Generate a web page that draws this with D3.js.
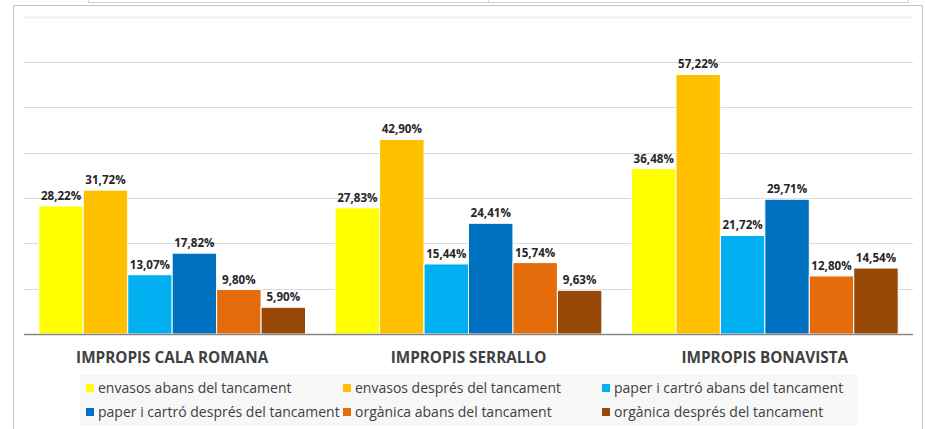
<!DOCTYPE html>
<html>
<head>
<meta charset="utf-8">
<script src="https://cdn.jsdelivr.net/npm/d3@7"></script>
<style>
  body { margin: 0; background: #fff; }
  svg { display: block; font-family: "Open Sans", Lato, sans-serif; }
</style>
</head>
<body>
<div id="chart"></div>
<script>
// chart data
var groups = ["IMPROPIS CALA ROMANA", "IMPROPIS SERRALLO", "IMPROPIS BONAVISTA"];
var series = ["envasos abans del tancament", "envasos després del tancament",
    "paper i cartró abans del tancament", "paper i cartró després del tancament",
    "orgànica abans del tancament", "orgànica després del tancament"];
var calaRomana = [28.22, 31.72, 13.07, 17.82, 9.80, 5.90];
var serrallo = [27.83, 42.90, 15.44, 24.41, 15.74, 9.63];
var bonavista = [36.48, 57.22, 21.72, 29.71, 12.80, 14.54];
var yTicks = [10, 20, 30, 40, 50, 60, 70];

var colors = ["#ffff00", "#ffc000", "#00b0f0", "#0070c0", "#e46c0a", "#984807"];
var values = [calaRomana, serrallo, bonavista];

var width = 925, height = 429;
var svg = d3.select("#chart").append("svg")
    .attr("width", width)
    .attr("height", height);

// bit of the table above the chart
svg.append("path")
    .attr("d", "M88.5,0 V2.5 H908.5 V0 M488.5,0 V2.5")
    .attr("fill", "none")
    .attr("stroke", "#d0d0d0");

// chart frame
svg.append("rect")
    .attr("x", 13.5).attr("y", 5.5)
    .attr("width", 909).attr("height", 440)
    .attr("fill", "#fff")
    .attr("stroke", "#c4c4c4");

var left = 24, right = 913, base = 334;

var x0 = d3.scaleBand()
    .domain(groups)
    .range([left, right])
    .paddingInner(0.1)
    .paddingOuter(0.05);

var x1 = d3.scaleBand()
    .domain(d3.range(series.length))
    .range([0, x0.bandwidth()]);

var y = d3.scaleLinear()
    .domain([0, 70])
    .range([base, base - 317.5]);

// gridlines
svg.selectAll("line.grid")
    .data(yTicks)
    .enter()
    .append("line")
    .attr("class", "grid")
    .attr("x1", left)
    .attr("x2", right)
    .attr("y1", function (d) { return Math.round(y(d)) + 0.5; })
    .attr("y2", function (d) { return Math.round(y(d)) + 0.5; })
    .attr("stroke", function (d) { return d == 70 ? "#f0f0f0" : "#d9d9d9"; })
    .attr("stroke-width", function (d) { return d == 70 ? 2 : 1; });

var g = svg.selectAll("g.group")
    .data(values)
    .enter()
    .append("g")
    .attr("class", "group")
    .attr("transform", function (d, i) { return "translate(" + x0(groups[i]) + ",0)"; });

g.selectAll("rect")
    .data(function (d) { return d; })
    .enter()
    .append("rect")
    .attr("x", function (d, i) { return x1(i); })
    .attr("y", function (d) { return y(d); })
    .attr("width", x1.bandwidth())
    .attr("height", function (d) { return base - y(d); })
    .attr("fill", function (d, i) { return colors[i]; })
    .attr("stroke", "#fff")
    .attr("stroke-width", 1);

var fmt = function (v) { return v.toFixed(2).replace(".", ",") + "%"; };

g.selectAll("text")
    .data(function (d) { return d; })
    .enter()
    .append("text")
    .attr("x", function (d, i) { return x1(i) + x1.bandwidth() / 2; })
    .attr("y", function (d) { return y(d) - 6; })
    .attr("text-anchor", "middle")
    .attr("font-size", "11.6px")
    .attr("font-weight", "bold")
    .attr("fill", "#262626")
    .text(fmt);

// axis baseline
svg.append("line")
    .attr("x1", left).attr("x2", right)
    .attr("y1", base + 0.5).attr("y2", base + 0.5)
    .attr("stroke", "#868686")
    .attr("stroke-width", 1.5);

// category labels
svg.selectAll("text.cat")
    .data(groups)
    .enter()
    .append("text")
    .attr("class", "cat")
    .attr("x", function (d) { return x0(d) + x0.bandwidth() / 2; })
    .attr("y", 363)
    .attr("text-anchor", "middle")
    .attr("font-size", "15.3px")
    .attr("font-weight", "bold")
    .attr("fill", "#404040")
    .text(function (d) { return d; });

// legend
svg.append("rect")
    .attr("x", 80).attr("y", 375)
    .attr("width", 777).attr("height", 50)
    .attr("fill", "#f7f7f7");

var legX = [86, 343, 602];
var legend = svg.selectAll("g.leg")
    .data(series)
    .enter()
    .append("g")
    .attr("class", "leg")
    .attr("transform", function (d, i) {
        return "translate(" + legX[i % 3] + "," + (i < 3 ? 388 : 412) + ")";
    });

legend.append("rect")
    .attr("x", 0).attr("y", -4)
    .attr("width", 8).attr("height", 8)
    .attr("fill", function (d, i) { return colors[i]; });

legend.append("text")
    .attr("x", 12)
    .attr("y", 5)
    .attr("font-size", "14px")
    .attr("fill", "#404040")
    .text(function (d) { return d; });
</script>
</body>
</html>
